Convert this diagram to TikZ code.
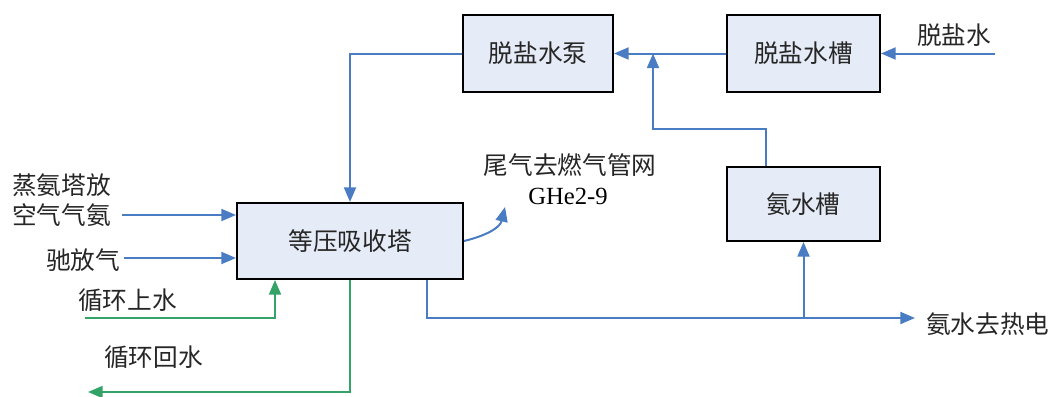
\documentclass[tikz,border=0pt]{standalone}
\usepackage{fontspec}
\setmainfont{Liberation Serif}
\newfontfamily\cjk{Noto Sans CJK SC}
\usetikzlibrary{arrows.meta}
\definecolor{lblue}{RGB}{74,124,196}
\definecolor{lgreen}{RGB}{52,163,104}
\definecolor{boxfill}{RGB}{230,236,247}
\tikzset{
  procbox/.style={draw=black,line width=1.5pt,fill=boxfill,inner sep=0pt},
  lbl/.style={font=\cjk\fontsize{18.5}{20}\selectfont,inner sep=0pt,text=black!85},
  bflow/.style={draw=lblue,line width=1.5pt},
  gflow/.style={draw=lgreen,line width=1.5pt},
  tip/.style={-{Triangle[length=11pt,width=9pt]}}
}
\begin{document}
\begin{tikzpicture}[x=0.75pt,y=-0.75pt]
\useasboundingbox (0,0) rectangle (1059,396);
% boxes
\node[procbox,minimum width=150*0.75pt,minimum height=77*0.75pt,lbl] (pump) at (538,53.5) {脱盐水泵};
\node[procbox,minimum width=153*0.75pt,minimum height=77*0.75pt,lbl] (dtank) at (803.5,53.5) {脱盐水槽};
\node[procbox,minimum width=153*0.75pt,minimum height=74*0.75pt,lbl] (atank) at (803.5,204) {氨水槽};
\node[procbox,minimum width=226*0.75pt,minimum height=76*0.75pt,lbl] (tower) at (350,241) {等压吸收塔};
% texts
\node[lbl] (tin) at (954,35) {脱盐水};
\node[lbl,anchor=west] (t1) at (12,185) {蒸氨塔放};
\node[lbl,anchor=west] (t2) at (12,215) {空气气氨};
\node[lbl,anchor=west] (t3) at (46,260) {驰放气};
\node[lbl,anchor=west] (t4) at (78,300) {循环上水};
\node[lbl,anchor=west] (t5) at (104,357) {循环回水};
\node[lbl] (t6) at (570,165) {尾气去燃气管网};
\node[inner sep=0pt,font=\fontsize{18.5}{20}\selectfont] (t7) at (568,196) {GHe2-9};
\node[lbl,anchor=west] (t8) at (926,324) {氨水去热电};
% coordinates
\coordinate (inD) at (995,53.5);
\coordinate (j1) at (653,53.5);
\coordinate (in1) at (122,215);
\coordinate (in2) at (124,258);
\coordinate (tailend) at (505,207);
\coordinate (outA) at (915,318);
\coordinate (g1) at (85,318);
\coordinate (g2) at (88,392);
% blue flows
\draw[bflow,tip] (inD) -- (dtank.east);
\draw[bflow,tip] (dtank.west) -- (pump.east);
\draw[bflow,tip] (atank.north -| 766,0) |- (700,129) -| (j1);
\draw[bflow,tip] (pump.west) -| (tower.north);
\draw[bflow,tip] (in1) -- (in1 -| tower.west);
\draw[bflow,tip] (in2) -- (in2 -| tower.west);
\draw[bflow,tip] (tower.east) .. controls (485,236) and (500,228) .. (tailend);
\draw[bflow,tip] (tower.south -| 427,0) |- (outA);
\draw[bflow,tip] (803.5,318) -- (atank.south);
% green flows
\draw[gflow,tip] (g1) -| (tower.south -| 275,0);
\draw[gflow,tip] (tower.south) |- (g2);
\end{tikzpicture}
\end{document}
